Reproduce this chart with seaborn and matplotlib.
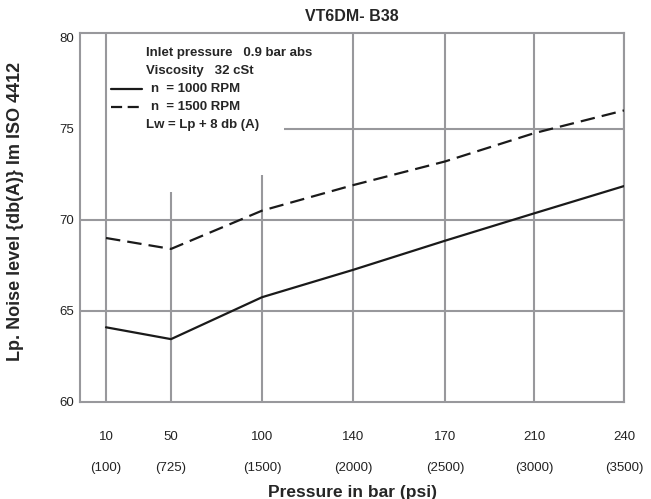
import matplotlib
matplotlib.use("Agg")
import matplotlib.pyplot as plt
import matplotlib.transforms as mtransforms
import seaborn as sns
import pandas as pd

# ---- data ----
pressure_bar = ["10", "50", "100", "140", "170", "210", "240"]
pressure_psi = ["(100)", "(725)", "(1500)", "(2000)", "(2500)", "(3000)", "(3500)"]
noise_1000 = [64.1, 63.45, 65.75, 67.25, 68.85, 70.35, 71.85]
noise_1500 = [69.0, 68.4, 70.5, 71.9, 73.2, 74.75, 76.0]
y_ticks = [60, 65, 70, 75, 80]
title = "VT6DM- B38"
info_lines = ["Inlet pressure   0.9 bar abs", "Viscosity   32 cSt"]
series_labels = ["n  = 1000 RPM", "n  = 1500 RPM"]
note = "Lw = Lp + 8 db (A)"

# layout (category positions on the axis, as in the original uneven spacing)
x_pos = [26, 91, 182, 273, 365, 454, 544]

sns.set_style("white")
plt.rcParams["font.family"] = ["Liberation Sans", "DejaVu Sans"]

df = pd.DataFrame({
    "pos": x_pos * 2,
    "level": noise_1000 + noise_1500,
    "speed": [series_labels[0]] * len(x_pos) + [series_labels[1]] * len(x_pos),
})

fig = plt.figure(figsize=(6.51, 4.99), dpi=100)
ax = fig.add_axes([80 / 651, 1 - 402 / 499, (624 - 80) / 651, (402 - 33) / 499])

grid_c = "#98989c"
ymin, ymax = 60, 80.25
ax.set_xlim(0, 544)
ax.set_ylim(ymin, ymax)

# grid lines (some interrupted by the info box, like the original)
vtops = [ymax, 71.55, 72.45, ymax, ymax, ymax, ymax]
ax.vlines(x_pos, ymin, vtops, colors=grid_c, linewidth=1.5, zorder=1)
ax.hlines([65, 70], 0, 544, colors=grid_c, linewidth=1.5, zorder=1)
ax.hlines([75], 204, 544, colors=grid_c, linewidth=1.5, zorder=1)

sns.lineplot(data=df, x="pos", y="level", style="speed",
             dashes={series_labels[0]: "", series_labels[1]: (6.5, 3.2)},
             color="#1a1a1a", linewidth=1.6, legend=False, ax=ax, zorder=3)

for s in ax.spines.values():
    s.set_color(grid_c)
    s.set_linewidth(1.5)

ax.set_xticks(x_pos)
ax.set_xticklabels(pressure_bar, fontsize=9.5, color="#222222")
ax.set_yticks(y_ticks)
ax.set_yticklabels([str(v) for v in y_ticks], fontsize=9.5, color="#222222")
ax.tick_params(axis="both", length=0)
ax.tick_params(axis="x", pad=21)
ax.tick_params(axis="y", pad=4)

trans = mtransforms.blended_transform_factory(ax.transData, ax.transAxes)
for p, lab in zip(x_pos, pressure_psi):
    ax.text(p, -0.178, lab, transform=trans, ha="center", va="center",
            fontsize=9.5, color="#222222")

ax.set_xlabel("Pressure in bar (psi)", fontsize=12.5, fontweight="bold")
ax.xaxis.set_label_coords(0.5, (402 - 492) / 369)
ax.set_ylabel("Lp. Noise level {db(A)} Im ISO 4412", fontsize=13, fontweight="bold")
ax.yaxis.set_label_coords((16 - 80) / 544, (402 - 211) / 369)
ax.xaxis.label.set_va("center")
ax.yaxis.label.set_va("center")
ax.set_title(title, fontsize=11.5, fontweight="bold", pad=9)

# info / legend block
def px(x, y):
    # figure pixel -> axes fraction
    return (x - 80) / 544, (402 - y) / 369

tx = 146
for i, t in enumerate(info_lines):
    ax.text(*px(tx, 53 + 18 * i), t, transform=ax.transAxes, fontsize=9.5,
            fontweight="bold", va="center", ha="left")
for i, (t, ls) in enumerate(zip(series_labels, ["-", (0, (5, 2.5))])):
    yy = 89 + 18 * i
    x0, y0 = px(111, yy)
    x1, _ = px(142, yy)
    ax.plot([x0, x1], [y0, y0], transform=ax.transAxes, color="#1a1a1a",
            linewidth=1.6, linestyle=ls)
    ax.text(*px(151, yy), t, transform=ax.transAxes, fontsize=9.5,
            fontweight="bold", va="center", ha="left")
ax.text(*px(tx, 125), note, transform=ax.transAxes, fontsize=9.5,
        fontweight="bold", va="center", ha="left")

fig.savefig("out.png", dpi=100)
